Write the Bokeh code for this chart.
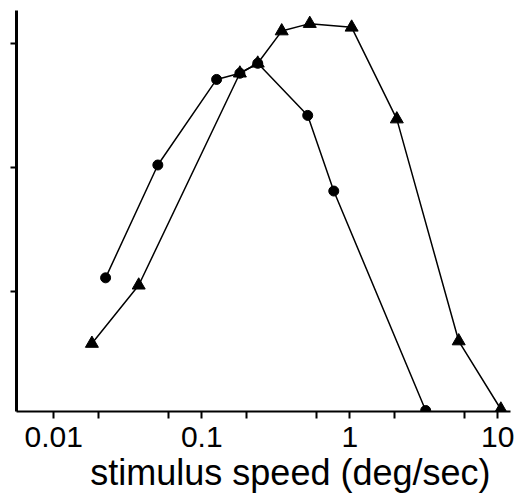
from bokeh.plotting import figure
from bokeh.models import FixedTicker, Title, Range1d
from bokeh.embed import file_html
from bokeh.resources import INLINE

# data (speed in deg/sec, response in tick units)
circle_speed = [0.0224, 0.0505, 0.126, 0.181, 0.239, 0.52, 0.78, 3.26]
circle_resp = [1.11, 2.02, 2.71, 2.76, 2.84, 2.42, 1.81, 0.04]

tri_speed = [0.0181, 0.0375, 0.181, 0.239, 0.347, 0.537, 1.03, 2.08, 5.45, 10.5]
tri_resp = [0.58, 1.05, 2.76, 2.84, 3.10, 3.16, 3.13, 2.39, 0.60, 0.05]

x_major = [0.01, 0.1, 1, 10]
x_major_labels = ["0.01", "0.1", "1", "10"]
x_minor = [0.02, 0.06, 0.2, 0.6, 2, 6]
y_ticks = [1, 2, 3]
x_label = "stimulus speed (deg/sec)"

FONT = "Liberation Sans"

p = figure(width=520, height=500, x_axis_type="log",
           x_range=Range1d(0.0056, 12.2), y_range=Range1d(0.032, 3.266),
           output_backend="svg", toolbar_location=None,
           min_border_left=16, min_border_right=10,
           min_border_top=10, min_border_bottom=89)
p.outline_line_color = None
p.grid.visible = False
p.background_fill_color = "white"

p.line(circle_speed, circle_resp, line_color="black", line_width=1.5)
p.scatter(circle_speed, circle_resp, marker="circle", size=10,
          fill_color="black", line_color="black")
p.line(tri_speed, tri_resp, line_color="black", line_width=1.5)
p.scatter(tri_speed, tri_resp, marker="triangle", size=13,
          fill_color="black", line_color="black")

xa = p.xaxis[0]
xa.ticker = FixedTicker(ticks=x_major, minor_ticks=x_minor)
xa.major_label_overrides = dict(zip(x_major, x_major_labels))
xa.axis_line_width = 2
xa.major_tick_out = 7
xa.major_tick_in = 0
xa.minor_tick_out = 7
xa.minor_tick_in = 0
xa.major_tick_line_width = 2
xa.minor_tick_line_width = 2
xa.major_label_text_font = FONT
xa.major_label_text_font_size = "30px"
xa.major_label_text_color = "black"
xa.major_label_standoff = 8

ya = p.yaxis[0]
ya.ticker = FixedTicker(ticks=y_ticks, minor_ticks=[])
ya.major_label_overrides = {t: "" for t in y_ticks}
ya.axis_line_width = 3
ya.major_tick_out = 6
ya.major_tick_in = 0
ya.major_tick_line_width = 2
ya.major_label_text_font_size = "10px"
ya.major_label_standoff = 0

p.add_layout(Title(text=x_label, align="right", text_font=FONT,
                   text_font_size="36px", text_font_style="normal",
                   text_color="black", standoff=0, offset=20), "below")

open("out.html", "w").write(file_html(p, INLINE))
